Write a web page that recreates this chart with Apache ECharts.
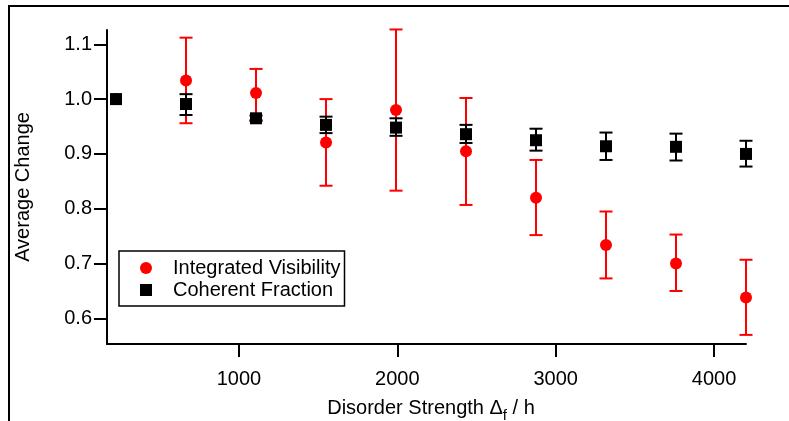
<!DOCTYPE html>
<html><head><meta charset="utf-8">
<script src="https://cdn.jsdelivr.net/npm/echarts@6/dist/echarts.min.js"></script>
<style>html,body{margin:0;padding:0;background:#fff}#c{width:789px;height:421px}</style>
</head><body><div id="c"></div>
<script>
const xValues = [224, 666, 1108, 1550, 1992, 2434, 2876, 3318, 3760, 4202];
const visibility = [1.000, 1.034, 1.011, 0.921, 0.980, 0.905, 0.820, 0.734, 0.700, 0.638];
const visLow     = [1.000, 0.956, 0.962, 0.842, 0.833, 0.807, 0.752, 0.673, 0.650, 0.570];
const visHigh    = [1.000, 1.112, 1.055, 1.000, 1.127, 1.002, 0.889, 0.795, 0.753, 0.707];
const coherent   = [1.000, 0.991, 0.965, 0.953, 0.948, 0.936, 0.925, 0.914, 0.913, 0.900];
const cohLow     = [1.000, 0.971, 0.960, 0.938, 0.933, 0.920, 0.906, 0.889, 0.888, 0.877];
const cohHigh    = [1.000, 1.009, 0.970, 0.968, 0.965, 0.953, 0.946, 0.939, 0.937, 0.924];
const xTicks = [1000, 2000, 3000, 4000];
const yTicks = [0.6, 0.7, 0.8, 0.9, 1.0, 1.1];
const seriesNames = ['Integrated Visibility', 'Coherent Fraction'];
const xTitle = '{a|Disorder Strength \u0394}{s|f}{a| / h}';
const yTitle = 'Average Change';

const FONT = '"Liberation Sans", Arial, Helvetica, sans-serif';
const chart = echarts.init(document.getElementById('c'));

function errSeries(low, high, color, z) {
  return {
    type: 'custom', z: z, silent: true, clip: false,
    data: xValues.map((x, i) => [x, low[i], high[i]]),
    encode: { x: 0, y: [1, 2] },
    renderItem: function (params, api) {
      const lo = api.value(1), hi = api.value(2);
      if (lo === hi) return null;
      const p1 = api.coord([api.value(0), lo]);
      const p2 = api.coord([api.value(0), hi]);
      const w = 6.5;
      const st = { stroke: color, lineWidth: 2 };
      return { type: 'group', children: [
        { type: 'line', shape: { x1: p1[0], y1: p1[1], x2: p2[0], y2: p2[1] }, style: st },
        { type: 'line', shape: { x1: p1[0] - w, y1: p1[1], x2: p1[0] + w, y2: p1[1] }, style: st },
        { type: 'line', shape: { x1: p2[0] - w, y1: p2[1], x2: p2[0] + w, y2: p2[1] }, style: st }
      ]};
    }
  };
}

chart.setOption({
  animation: false,
  backgroundColor: '#fff',
  textStyle: { fontFamily: FONT },
  grid: { left: 107, right: 43, top: 30, bottom: 77, containLabel: false, outerBoundsMode: 'none' },
  graphic: [
    { type: 'line', shape: { x1: 9, y1: 6, x2: 789, y2: 6 }, style: { stroke: '#000', lineWidth: 2 } },
    { type: 'line', shape: { x1: 9, y1: 5, x2: 9, y2: 430 }, style: { stroke: '#000', lineWidth: 2 } }
  ],
  legend: {
    orient: 'vertical', left: 119, top: 251,
    padding: [7, 4, 6, 21], itemGap: 2,
    itemWidth: 12, itemHeight: 12,
    borderColor: '#000', borderWidth: 1.5, backgroundColor: '#fff',
    textStyle: { fontFamily: FONT, fontSize: 20, color: '#000', lineHeight: 20, padding: [0, 0, 0, 16] },
    data: [
      { name: seriesNames[0], icon: 'circle' },
      { name: seriesNames[1], icon: 'rect' }
    ]
  },
  xAxis: {
    type: 'value', min: 167, max: 4202,
    name: xTitle, nameLocation: 'middle', nameGap: 54,
    nameTextStyle: { padding: [0, 0, 0, 9], rich: {
      a: { fontFamily: FONT, fontSize: 20, color: '#000', lineHeight: 22, verticalAlign: 'top' },
      s: { fontFamily: FONT, fontSize: 15, color: '#000', lineHeight: 15, verticalAlign: 'top', padding: [10, 0, 0, 0] }
    }},
    axisLine: { show: true, lineStyle: { color: '#000', width: 2 } },
    axisTick: { show: true, length: 13, lineStyle: { color: '#000', width: 2 }, customValues: xTicks },
    axisLabel: { color: '#000', fontSize: 20, fontFamily: FONT, margin: 25, customValues: xTicks,
      formatter: v => String(v) },
    splitLine: { show: false }
  },
  yAxis: {
    type: 'value', min: 0.5534, max: 1.126,
    name: yTitle, nameLocation: 'middle', nameGap: 74,
    nameTextStyle: { fontFamily: FONT, fontSize: 20, color: '#000' },
    axisLine: { show: true, lineStyle: { color: '#000', width: 2 } },
    axisTick: { show: true, length: 13, lineStyle: { color: '#000', width: 2 }, customValues: yTicks },
    axisLabel: { color: '#000', fontSize: 20, fontFamily: FONT, margin: 15, customValues: yTicks,
      formatter: v => v.toFixed(1) },
    splitLine: { show: false }
  },
  series: [
    errSeries(visLow, visHigh, '#ff0000', 2),
    { name: seriesNames[0], type: 'scatter', z: 3, symbol: 'circle', symbolSize: 12,
      itemStyle: { color: '#ff0000', opacity: 1 },
      data: xValues.map((x, i) => [x, visibility[i]]) },
    errSeries(cohLow, cohHigh, '#000000', 4),
    { name: seriesNames[1], type: 'scatter', z: 5, symbol: 'rect', symbolSize: 12,
      itemStyle: { color: '#000000', opacity: 1 },
      data: xValues.map((x, i) => [x, coherent[i]]) }
  ]
});
</script>
</body></html>
